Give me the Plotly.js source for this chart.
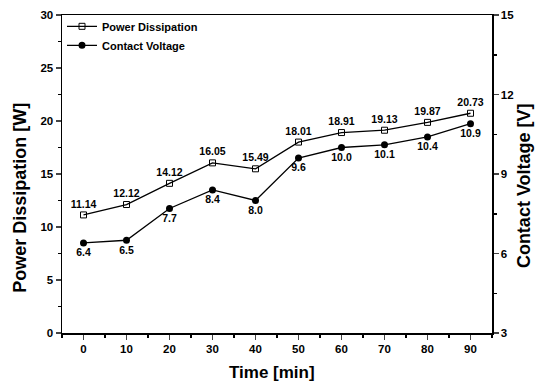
<!DOCTYPE html>
<html><head><meta charset="utf-8">
<script src="https://cdn.plot.ly/plotly-3.0.1.min.js"></script>
<style>body{margin:0;background:#fff}#c{width:536px;height:382px}</style>
</head><body><div id="c"></div>
<script>
var time = [0,10,20,30,40,50,60,70,80,90];
var powerW = [11.14,12.12,14.12,16.05,15.49,18.01,18.91,19.13,19.87,20.73];
var powerLabels = ["11.14","12.12","14.12","16.05","15.49","18.01","18.91","19.13","19.87","20.73"];
var voltageV = [6.4,6.5,7.7,8.4,8.0,9.6,10.0,10.1,10.4,10.9];
var voltageLabels = ["6.4","6.5","7.7","8.4","8.0","9.6","10.0","10.1","10.4","10.9"];
var xTitle = 'Time [min]';
var yTitle = 'Power Dissipation [W]';
var y2Title = 'Contact Voltage [V]';

var F = "Liberation Sans, Arial, sans-serif";
var tickF = {family:F, size:11.5, color:'#000', weight:'bold'};
var titleF = {family:F, size:18, color:'#000', weight:'bold'};
var traces = [
 {x:time, y:powerW, name:'Power Dissipation', mode:'lines+markers+text',
  text:powerLabels, textposition:'top center', textfont:{family:F,size:10.5,color:'#000',weight:'bold'},
  line:{color:'#000',width:1.3}, marker:{symbol:'square-open',size:6,color:'#000',line:{width:1}},
  yaxis:'y', cliponaxis:false},
 {x:time, y:voltageV, name:'Contact Voltage', mode:'lines+markers+text',
  text:voltageLabels, textposition:'bottom center', textfont:{family:F,size:10.5,color:'#000',weight:'bold'},
  line:{color:'#000',width:1.3}, marker:{symbol:'circle',size:7,color:'#000'},
  yaxis:'y2', cliponaxis:false}
];
var layout = {
 width:536, height:382, margin:{l:62,r:44,t:13,b:49},
 paper_bgcolor:'#fff', plot_bgcolor:'#fff', showlegend:true,
 legend:{x:0.0, y:1.01, xanchor:'left', yanchor:'top', bgcolor:'rgba(0,0,0,0)',
   font:{family:F,size:11,color:'#000',weight:'bold'}, itemwidth:30, tracegroupgap:0},
 xaxis:{range:[-5,95], tickvals:[0,10,20,30,40,50,60,70,80,90], ticks:'outside', ticklen:5, tickwidth:1.5,
   minor:{dtick:5, tick0:0, ticks:'outside', ticklen:3, tickcolor:'#000'},
   showline:true, linecolor:'#000', linewidth:1.5, mirror:true, showgrid:false, zeroline:false,
   tickfont:tickF},
 yaxis:{range:[0,30], dtick:5, ticks:'outside', ticklen:5, tickwidth:1.5,
   minor:{dtick:2.5, ticks:'outside', ticklen:3, tickcolor:'#000'},
   showline:true, linecolor:'#000', linewidth:1.5, showgrid:false, zeroline:false,
   tickfont:tickF},
 yaxis2:{range:[3,15], dtick:3, overlaying:'y', side:'right', ticks:'outside', ticklen:5, tickwidth:1.5,
   minor:{dtick:1.5, ticks:'outside', ticklen:3, tickcolor:'#000'},
   showline:true, linecolor:'#000', linewidth:1.5, showgrid:false, zeroline:false,
   tickfont:tickF},
 annotations:[
  {text:xTitle, xref:'paper', yref:'paper', x:0.488, y:-0.125, xanchor:'center', yanchor:'middle', showarrow:false,
   font:{family:F,size:17,color:'#000',weight:'bold'}},
  {text:yTitle, xref:'paper', yref:'paper', x:-0.0977, y:0.425, xanchor:'center', yanchor:'middle', showarrow:false,
   textangle:-90, font:titleF},
  {text:y2Title, xref:'paper', yref:'paper', x:1.0745, y:0.462, xanchor:'center', yanchor:'middle', showarrow:false,
   textangle:-90, font:titleF}
 ]
};
Plotly.newPlot('c', traces, layout, {displayModeBar:false, staticPlot:true});
</script></body></html>
